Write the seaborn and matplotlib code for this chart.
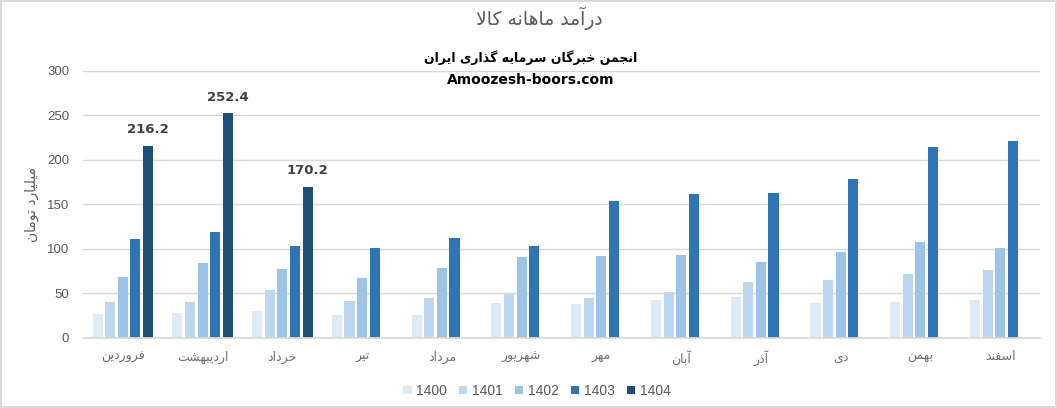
import numpy as np
import pandas as pd
import matplotlib
matplotlib.use("Agg")
import matplotlib.pyplot as plt
import seaborn as sns

# --- data ---
months = ["فروردین", "اردیبهشت", "خرداد", "تیر", "مرداد", "شهریور",
          "مهر", "آبان", "آذر", "دی", "بهمن", "اسفند"]
years = ["1400", "1401", "1402", "1403", "1404"]
v1400 = [27.4, 28.5, 30.7, 26.2, 26.2, 39.8, 38.6, 43.1, 46.5, 39.8, 40.9, 43.1]
v1401 = [40.9, 40.9, 54.4, 42.0, 45.4, 49.5, 45.4, 52.1, 63.4, 65.6, 72.3, 76.9]
v1402 = [69.0, 84.7, 78.0, 67.9, 79.1, 91.5, 92.6, 93.7, 85.9, 97.0, 107.3, 101.6]
v1403 = [111.7, 119.6, 103.9, 101.6, 112.9, 102.8, 153.4, 161.3, 162.4, 178.1, 214.1, 220.9]
v1404 = [216.2, 252.4, 170.2] + [np.nan] * 9
colors = ["#DEEBF7", "#BDD7EE", "#9DC3E6", "#2E75B6", "#1F4E79"]

title = "درآمد ماهانه کالا"
subtitle = "انجمن خبرگان سرمایه گذاری ایران"
site = "Amoozesh-boors.com"
ylabel = "میلیارد تومان"

# --- minimal Arabic/Persian shaping (matplotlib has no complex text layout) ---
FORMS = {  # isolated, final, initial, medial
    "ا": (0xFE8D, 0xFE8E, None, None), "آ": (0xFE81, 0xFE82, None, None),
    "ب": (0xFE8F, 0xFE90, 0xFE91, 0xFE92), "پ": (0xFB56, 0xFB57, 0xFB58, 0xFB59),
    "ت": (0xFE95, 0xFE96, 0xFE97, 0xFE98), "ج": (0xFE9D, 0xFE9E, 0xFE9F, 0xFEA0),
    "چ": (0xFB7A, 0xFB7B, 0xFB7C, 0xFB7D), "ح": (0xFEA1, 0xFEA2, 0xFEA3, 0xFEA4),
    "خ": (0xFEA5, 0xFEA6, 0xFEA7, 0xFEA8), "د": (0xFEA9, 0xFEAA, None, None),
    "ذ": (0xFEAB, 0xFEAC, None, None), "ر": (0xFEAD, 0xFEAE, None, None),
    "ز": (0xFEAF, 0xFEB0, None, None), "ژ": (0xFB8A, 0xFB8B, None, None),
    "س": (0xFEB1, 0xFEB2, 0xFEB3, 0xFEB4), "ش": (0xFEB5, 0xFEB6, 0xFEB7, 0xFEB8),
    "ف": (0xFED1, 0xFED2, 0xFED3, 0xFED4), "ق": (0xFED5, 0xFED6, 0xFED7, 0xFED8),
    "ک": (0xFB8E, 0xFB8F, 0xFB90, 0xFB91), "گ": (0xFB92, 0xFB93, 0xFB94, 0xFB95),
    "ل": (0xFEDD, 0xFEDE, 0xFEDF, 0xFEE0), "م": (0xFEE1, 0xFEE2, 0xFEE3, 0xFEE4),
    "ن": (0xFEE5, 0xFEE6, 0xFEE7, 0xFEE8), "ه": (0xFEE9, 0xFEEA, 0xFEEB, 0xFEEC),
    "و": (0xFEED, 0xFEEE, None, None), "ی": (0xFBFC, 0xFBFD, 0xFBFE, 0xFBFF),
}
LAM_ALEF = {"ا": (0xFEFB, 0xFEFC), "آ": (0xFEF5, 0xFEF6)}


def joins_fwd(c):
    return c in FORMS and FORMS[c][2] is not None


def shape(text):
    out = []
    i = 0
    n = len(text)
    while i < n:
        c = text[i]
        if c not in FORMS:
            out.append(c)
            i += 1
            continue
        prev = text[i - 1] if i > 0 else ""
        linked_prev = joins_fwd(prev)
        if c == "ل" and i + 1 < n and text[i + 1] in LAM_ALEF:
            iso, fin = LAM_ALEF[text[i + 1]]
            out.append(chr(fin if linked_prev else iso))
            i += 2
            continue
        nxt = text[i + 1] if i + 1 < n else ""
        linked_next = joins_fwd(c) and nxt in FORMS
        iso, fin, ini, med = FORMS[c]
        if linked_prev and linked_next:
            code = med
        elif linked_prev:
            code = fin
        elif linked_next:
            code = ini
        else:
            code = iso
        out.append(chr(code))
        i += 1
    return "".join(out)[::-1]


# --- long table for seaborn ---
df = pd.DataFrame({
    "month": months * 5,
    "year": np.repeat(years, 12),
    "value": v1400 + v1401 + v1402 + v1403 + v1404,
})
df["label"] = df["month"].map(shape)

sns.set_theme(style="white")
plt.rcParams["font.family"] = ["Liberation Sans", "DejaVu Sans"]
grey = "#595959"

fig = plt.figure(figsize=(10.57, 4.08), dpi=100)
ax = fig.add_axes([0.0785, 0.1716, 0.9055, 0.6544])

sns.barplot(data=df, x="label", y="value", hue="year", hue_order=years,
            palette=colors, width=0.79, gap=0.2, saturation=1,
            linewidth=0, errorbar=None, ax=ax)

ax.set_ylim(0, 300)
ax.set_xlim(-0.5, 11.5)
ax.set_yticks(range(0, 301, 50))
ax.yaxis.grid(True, color="#D9D9D9", linewidth=1)
ax.set_axisbelow(True)
sns.despine(ax=ax, left=True, top=True, right=True, bottom=False)
ax.spines["bottom"].set_color("#D9D9D9")
ax.tick_params(axis="both", length=0, colors=grey, labelsize=9.5)
ax.tick_params(axis="x", pad=9, labelcolor="#707070")
ax.tick_params(axis="y", pad=10)
for lab in ax.get_xticklabels():
    lab.set_family(["DejaVu Sans"])
    lab.set_fontsize(9)
ax.set_xlabel("")
ax.set_ylabel(shape(ylabel), color=grey, fontsize=10, family=["DejaVu Sans"])
ax.yaxis.set_label_coords(-0.046, 0.5)

# data labels on the 1404 bars
ax.bar_label(ax.containers[4], fmt="%.1f", padding=7, fontsize=9.5,
             fontweight="bold", color="#404040",
             family=["DejaVu Sans"])

fig.text(0.51, 0.955, shape(title), ha="center", va="center",
         fontsize=13.5, color=grey, family=["DejaVu Sans"])
fig.text(0.502, 0.86, shape(subtitle), ha="center", va="center",
         fontsize=9, fontweight="bold", color="black", family=["DejaVu Sans"])
fig.text(0.502, 0.803, site, ha="center", va="center",
         fontsize=10, fontweight="bold", color="black", family=["DejaVu Sans"])

sns.move_legend(ax, "center", bbox_to_anchor=(0.508, 0.042),
                bbox_transform=fig.transFigure, ncol=5, frameon=False,
                title=None, fontsize=10, handlelength=0.6, handleheight=0.6,
                handletextpad=0.35, columnspacing=0.85, labelcolor=grey)

fig.patch.set_edgecolor("#D9D9D9")
fig.patch.set_linewidth(1.5)
fig.savefig("out.png", dpi=100, edgecolor=fig.get_edgecolor())
